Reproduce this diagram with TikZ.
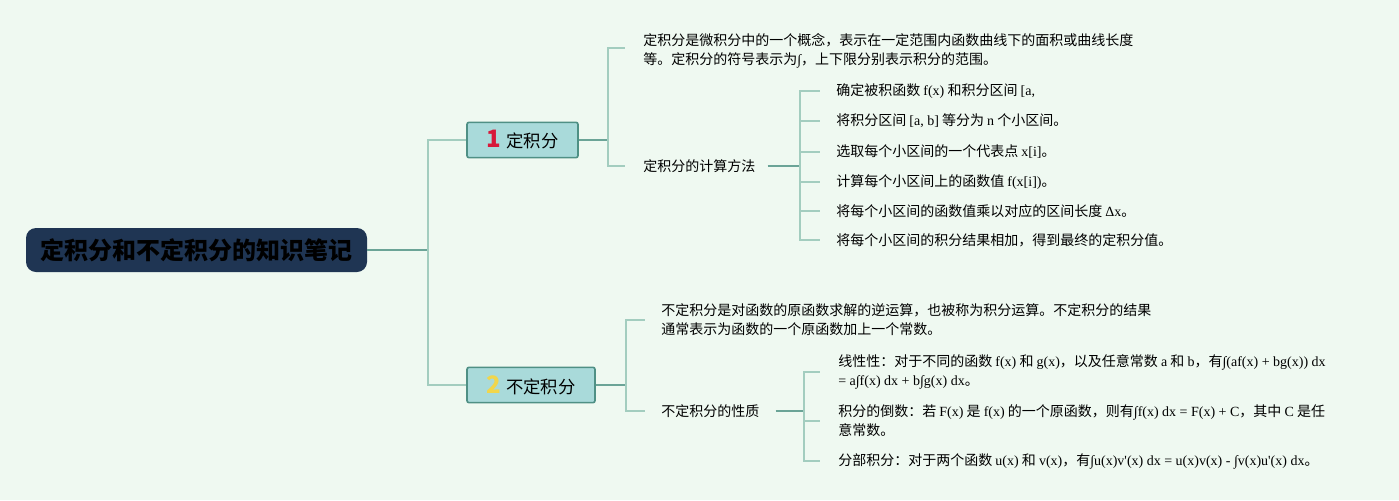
\documentclass[tikz,border=0pt]{standalone}
\usepackage{fontspec}
\setmainfont{Noto Sans CJK SC}
\newfontfamily\cjk{Noto Sans CJK SC}
\newfontfamily\latf{Liberation Serif}
\newcommand\lt[1]{{\latf #1}}
\definecolor{bgc}{HTML}{EFF9F1}
\definecolor{navy}{HTML}{1F3553}
\definecolor{tealfill}{HTML}{A9DADA}
\definecolor{tealedge}{HTML}{4F9085}
\definecolor{ldark}{HTML}{6BA497}
\definecolor{llight}{HTML}{A3CDBF}
\definecolor{numred}{HTML}{D7193A}
\definecolor{numyel}{HTML}{F1D64B}
\tikzset{
  rootbox/.style={fill=navy, rounded corners=7.5pt, minimum width=255.75pt, minimum height=33pt, inner sep=0pt, font=\fontsize{18pt}{20pt}\selectfont\bfseries, text=black},
  topicbox/.style={fill=tealfill, draw=tealedge, line width=1.2pt, rounded corners=1.5pt, minimum height=26.5pt, inner sep=0pt, font=\fontsize{13pt}{15pt}\selectfont},
  leaf/.style={inner sep=0pt, anchor=west, align=left, font=\fontsize{10.5pt}{14.4pt}\selectfont},
  darkline/.style={draw=ldark, line width=1.1pt},
  lightline/.style={draw=llight, line width=1.1pt},
}
\begin{document}
\begin{tikzpicture}[x=0.75pt, y=-0.75pt]
\fill[bgc] (0,0) rectangle (1399,500);
\useasboundingbox (0,0) rectangle (1399,500);

\node[rootbox] (root) at (196.5,250) {定积分和不定积分的知识笔记};

\node[topicbox, minimum width=83.25pt] (t1) at (522.5,140) {{\bfseries\fontsize{18pt}{18pt}\selectfont\color{numred}1}\hspace{4pt}定积分};
\node[topicbox, minimum width=96pt] (t2) at (531,385) {{\bfseries\fontsize{18pt}{18pt}\selectfont\color{numyel}2}\hspace{4pt}不定积分};

\coordinate (s0) at (428,250);
\draw[darkline] (root.east) -- (root.east -| s0);
\draw[lightline] (root.east -| s0) |- (t1.west);
\draw[lightline] (root.east -| s0) |- (t2.west);

% branch 1
\node[leaf] (d1) at (643,51) {定积分是微积分中的一个概念，表示在一定范围内函数曲线下的面积或曲线长度\\等。定积分的符号表示为\lt{∫}，上下限分别表示积分的范围。};
\node[leaf] (d2) at (643,166) {定积分的计算方法};
\coordinate (s1) at (608,140);
\draw[darkline] (t1.east) -- (t1.east -| s1);
\draw[lightline] (t1.east -| s1) |- ([xshift=-13.5pt,yshift=2.25pt]d1.west);
\draw[lightline] (t1.east -| s1) |- ([xshift=-13.5pt]d2.west);

\node[leaf] (c1) at (836,91) {确定被积函数 \lt{f(x)} 和积分区间 \lt{[a,}};
\node[leaf] (c2) at (836,121) {将积分区间 \lt{[a, b]} 等分为 \lt{n} 个小区间。};
\node[leaf] (c3) at (836,152) {选取每个小区间的一个代表点 \lt{x[i]}。};
\node[leaf] (c4) at (836,182) {计算每个小区间上的函数值 \lt{f(x[i])}。};
\node[leaf] (c5) at (836,211) {将每个小区间的函数值乘以对应的区间长度 \lt{Δx}。};
\node[leaf] (c6) at (836,240) {将每个小区间的积分结果相加，得到最终的定积分值。};
\coordinate (s2) at (800,166);
\draw[darkline] ([xshift=9pt]d2.east) -- (d2.east -| s2);
\foreach \c in {c1,c2,c3,c4,c5,c6}
  \draw[lightline] (d2.east -| s2) |- ([xshift=-12pt]\c.west);

% branch 2
\node[leaf] (e1) at (661,320) {不定积分是对函数的原函数求解的逆运算，也被称为积分运算。不定积分的结果\\通常表示为函数的一个原函数加上一个常数。};
\node[leaf] (e2) at (661,411) {不定积分的性质};
\coordinate (s3) at (626,385);
\draw[darkline] (t2.east) -- (t2.east -| s3);
\draw[lightline] (t2.east -| s3) |- ([xshift=-12pt]e1.west);
\draw[lightline] (t2.east -| s3) |- ([xshift=-12pt]e2.west);

\node[leaf] (p1) at (838,372) {线性性：对于不同的函数 \lt{f(x)} 和 \lt{g(x)}，以及任意常数 \lt{a} 和 \lt{b}，有\lt{∫(af(x) + bg(x)) dx}\\\lt{= a∫f(x) dx + b∫g(x) dx}。};
\node[leaf] (p2) at (838,421) {积分的倒数：若 \lt{F(x)} 是 \lt{f(x)} 的一个原函数，则有\lt{∫f(x) dx = F(x) + C}，其中 \lt{C} 是任\\意常数。};
\node[leaf] (p3) at (838,461) {分部积分：对于两个函数 \lt{u(x)} 和 \lt{v(x)}，有\lt{∫u(x)v'(x) dx = u(x)v(x) - ∫v(x)u'(x) dx}。};
\coordinate (s4) at (804,410);
\draw[darkline] ([xshift=12pt]e2.east) -- (e2.east -| s4);
\foreach \p in {p1,p2,p3}
  \draw[lightline] (e2.east -| s4) |- ([xshift=-13.5pt]\p.west);
\end{tikzpicture}
\end{document}
